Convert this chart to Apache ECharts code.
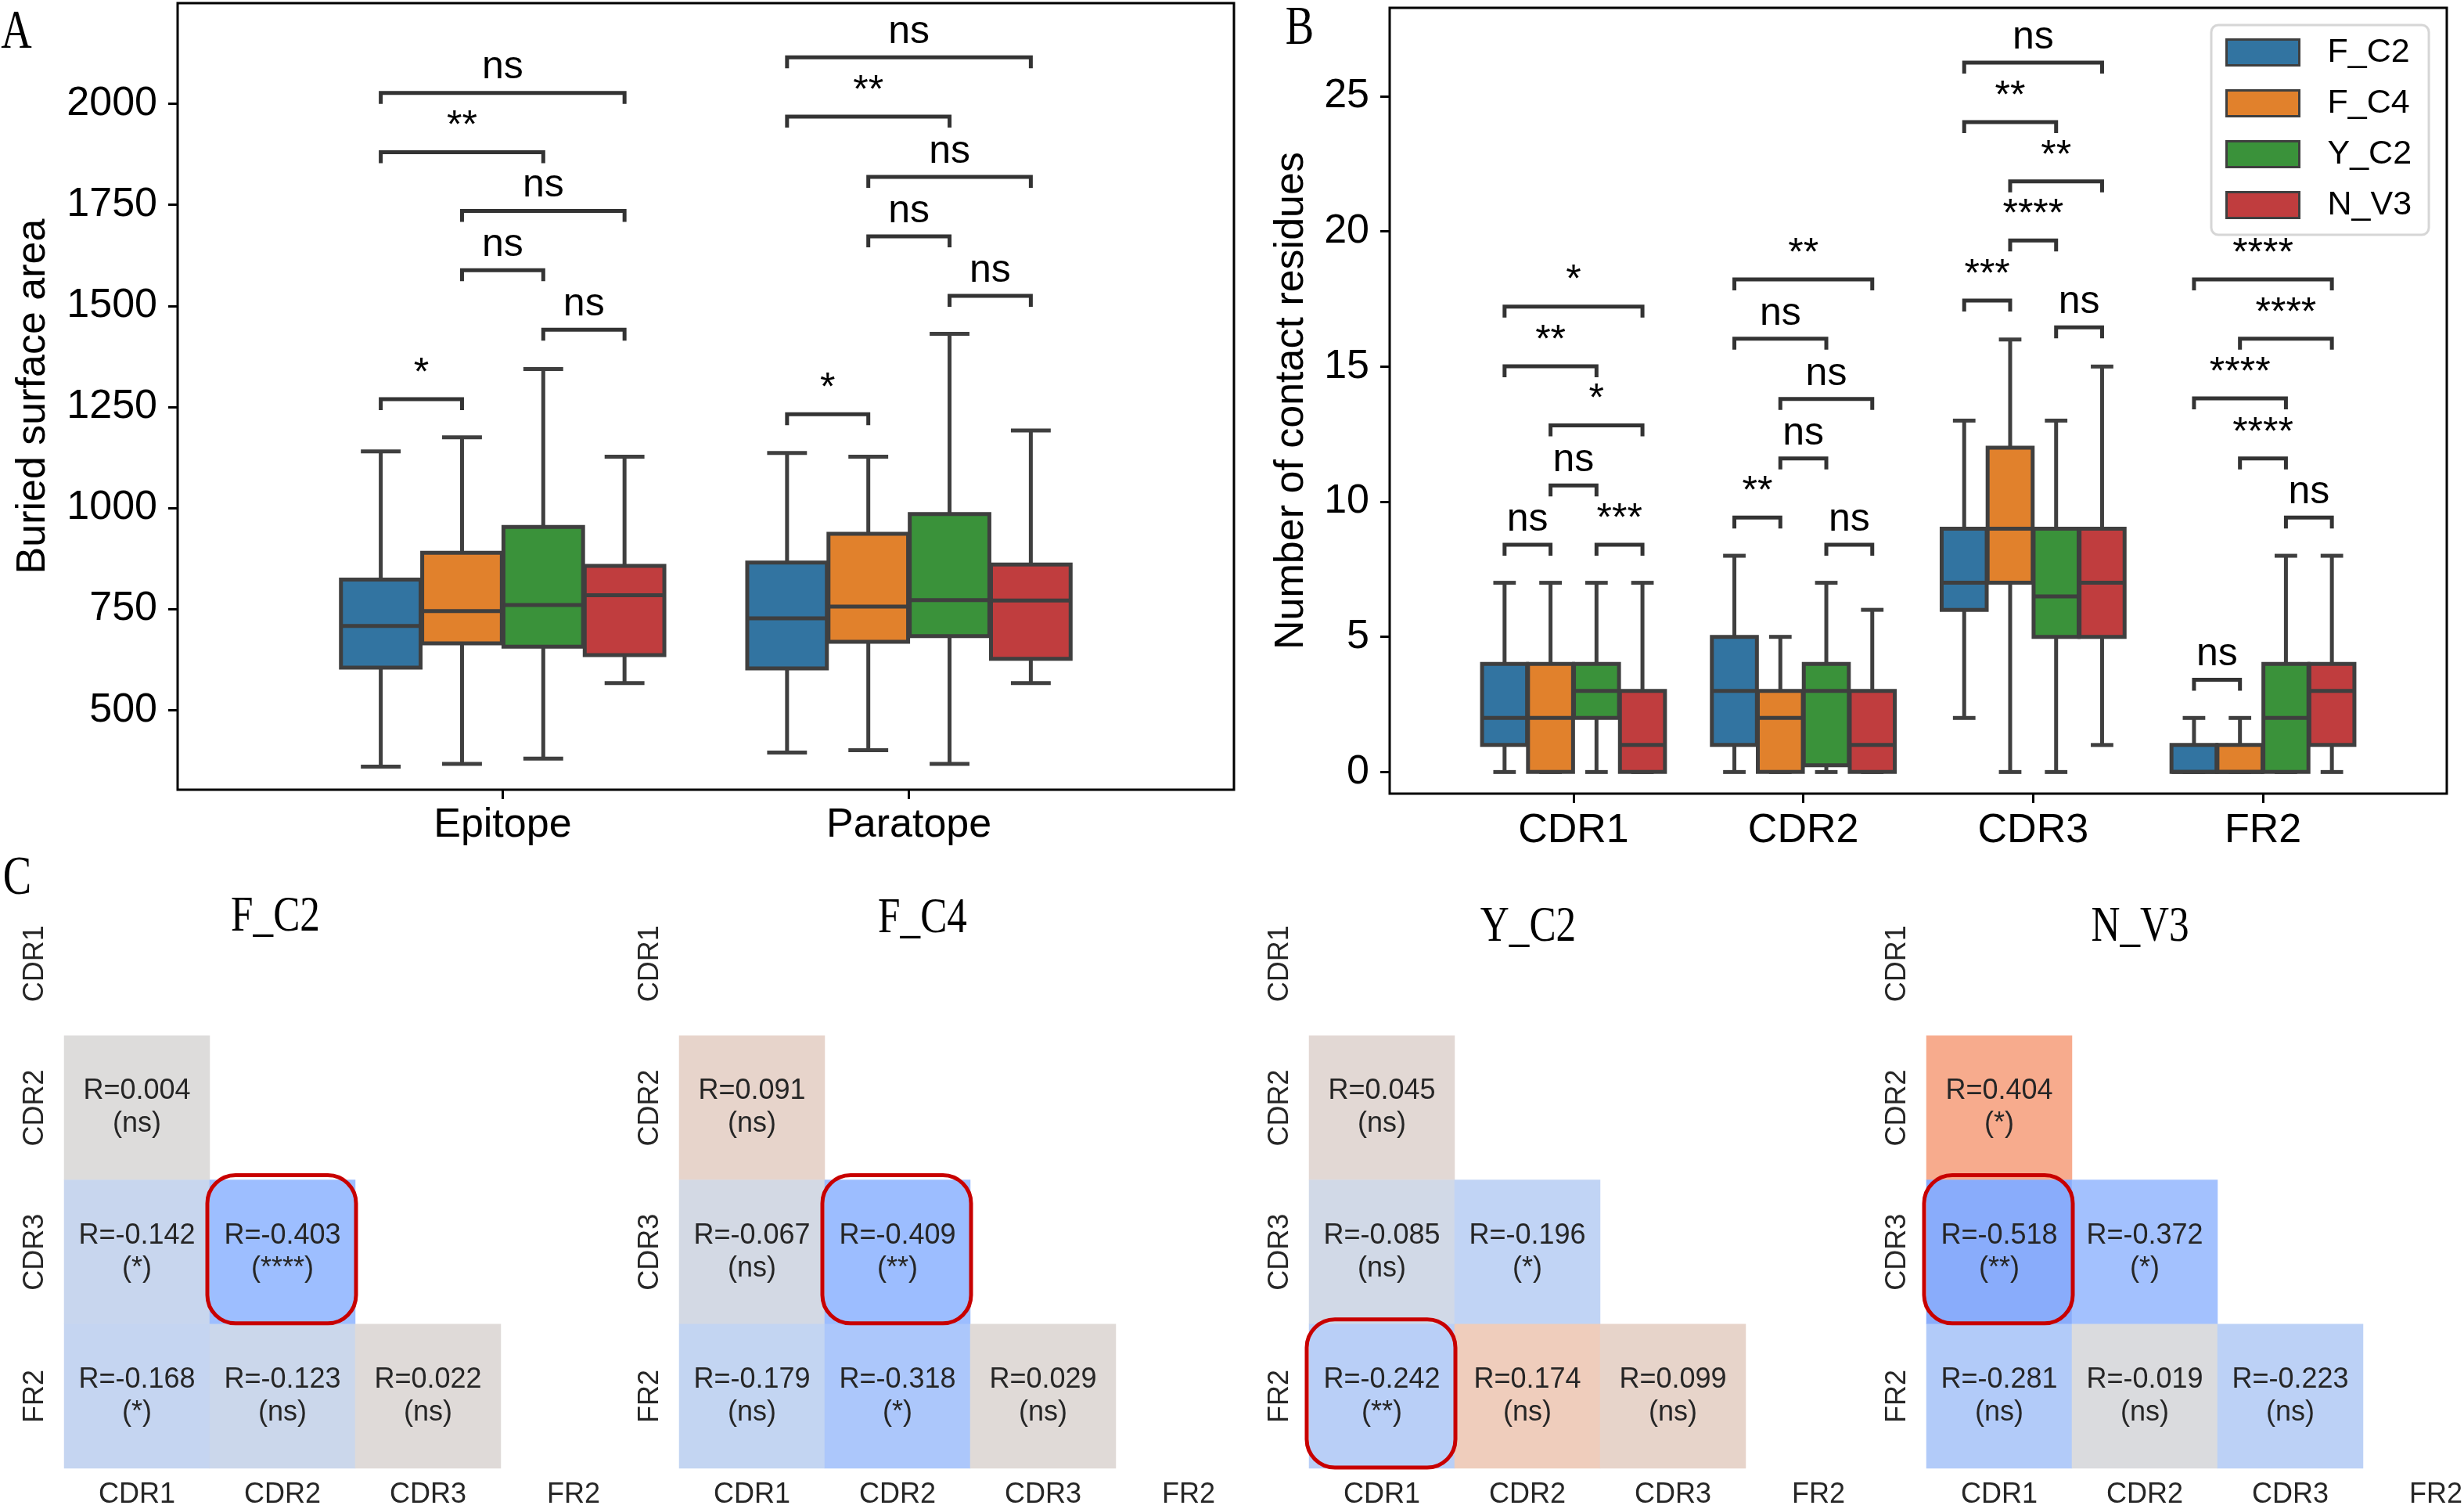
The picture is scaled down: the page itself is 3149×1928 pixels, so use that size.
<!DOCTYPE html>
<html><head><meta charset="utf-8">
<script src="https://cdn.jsdelivr.net/npm/echarts@6/dist/echarts.min.js"></script>
<style>html,body{margin:0;padding:0;background:#fff;overflow:hidden;width:3149px;height:1928px}#c{width:3220px;height:1928px}</style>
</head><body><div id="c"></div><script>
// ---------- data ----------
const hues = ['F_C2', 'F_C4', 'Y_C2', 'N_V3'];
const hueColors = ['#3274a1', '#e1812c', '#3a923a', '#c03d3e'];

// Panel A: buried surface area, [lowWhisker, Q1, median, Q3, highWhisker]
const catA = ['Epitope', 'Paratope'];
const yTicksA = [500, 750, 1000, 1250, 1500, 1750, 2000];
const boxA_F_C2 = [[360, 605, 708, 823, 1140], [395, 603, 727, 865, 1136]];
const boxA_F_C4 = [[367, 665, 745, 889, 1175], [401, 669, 756, 936, 1127]];
const boxA_Y_C2 = [[380, 657, 760, 953, 1344], [367, 683, 772, 985, 1431]];
const boxA_N_V3 = [[567, 636, 784, 857, 1127], [567, 627, 771, 860, 1192]];
// significance brackets: [category, hueFrom, hueTo, level, label]
const sigA = [
  [0, 0, 1, 1269, '*'], [0, 2, 3, 1441, 'ns'], [0, 1, 2, 1588, 'ns'], [0, 1, 3, 1735, 'ns'], [0, 0, 2, 1880, '**'], [0, 0, 3, 2027, 'ns'],
  [1, 0, 1, 1232, '*'], [1, 2, 3, 1525, 'ns'], [1, 1, 2, 1672, 'ns'], [1, 1, 3, 1819, 'ns'], [1, 0, 2, 1968, '**'], [1, 0, 3, 2115, 'ns']
];

// Panel B: number of contact residues
const catB = ['CDR1', 'CDR2', 'CDR3', 'FR2'];
const yTicksB = [0, 5, 10, 15, 20, 25];
const boxB_F_C2 = [[0, 1, 2, 4, 7], [0, 1, 3, 5, 8], [2, 6, 7, 9, 13], [0, 0, 0, 1, 2]];
const boxB_F_C4 = [[0, 0, 2, 4, 7], [0, 0, 2, 3, 5], [0, 7, 9, 12, 16], [0, 0, 0, 1, 2]];
const boxB_Y_C2 = [[0, 2, 3, 4, 7], [0, 0.25, 3, 4, 7], [0, 5, 6.5, 9, 13], [0, 0, 2, 4, 8]];
const boxB_N_V3 = [[0, 0, 1, 3, 7], [0, 0, 1, 3, 6], [1, 5, 7, 9, 15], [0, 1, 3, 4, 8]];
const sigB = [
  [0, 0, 1, 8.41, 'ns'], [0, 2, 3, 8.41, '***'], [0, 1, 2, 10.6, 'ns'], [0, 1, 3, 12.82, '*'], [0, 0, 2, 15.01, '**'], [0, 0, 3, 17.22, '*'],
  [1, 0, 1, 9.41, '**'], [1, 2, 3, 8.41, 'ns'], [1, 1, 2, 11.6, 'ns'], [1, 1, 3, 13.8, 'ns'], [1, 0, 2, 16.03, 'ns'], [1, 0, 3, 18.22, '**'],
  [2, 0, 1, 17.44, '***'], [2, 2, 3, 16.45, 'ns'], [2, 1, 2, 19.66, '****'], [2, 1, 3, 21.85, '**'], [2, 0, 2, 24.04, '**'], [2, 0, 3, 26.24, 'ns'],
  [3, 0, 1, 3.41, 'ns'], [3, 2, 3, 9.41, 'ns'], [3, 1, 2, 11.6, '****'], [3, 0, 2, 13.82, '****'], [3, 1, 3, 16.03, '****'], [3, 0, 3, 18.22, '****']
];

// Panel C: correlation heatmaps (lower triangle), pairs are [xIndex, yIndex]
const regions = ['CDR1', 'CDR2', 'CDR3', 'FR2'];
const pairs = [[0, 1], [0, 2], [1, 2], [0, 3], [1, 3], [2, 3]];
const R_F_C2 = [0.004, -0.142, -0.403, -0.168, -0.123, 0.022];
const S_F_C2 = ['ns', '*', '****', '*', 'ns', 'ns'];
const R_F_C4 = [0.091, -0.067, -0.409, -0.179, -0.318, 0.029];
const S_F_C4 = ['ns', 'ns', '**', 'ns', '*', 'ns'];
const R_Y_C2 = [0.045, -0.085, -0.196, -0.242, 0.174, 0.099];
const S_Y_C2 = ['ns', 'ns', '*', '**', 'ns', 'ns'];
const R_N_V3 = [0.404, -0.518, -0.372, -0.281, -0.019, -0.223];
const S_N_V3 = ['*', '**', '*', 'ns', 'ns', 'ns'];
const highlightCells = [[1, 2], [1, 2], [0, 3], [0, 2]];

// ---------- layout / style ----------
const SANS = '"Liberation Sans", Arial, sans-serif';
const SERIF = '"Liberation Serif", "Times New Roman", serif';
const HUE_OFFSETS = [-0.3, -0.1, 0.1, 0.3];
const BOX_W = 0.196, CAP_W = 0.098;
const EDGE = '#3f3f3f';
const coolwarm = ['#3b4cc0', '#5977e3', '#7b9ff9', '#9ebeff', '#c0d4f5', '#dddcdc', '#f2cbb7', '#f7ac8e', '#ee8468', '#d65244', '#b40426'];

function boxRender(params, api) {
  const x = api.value(0), lo = api.value(1), q1 = api.value(2), med = api.value(3), q3 = api.value(4), hi = api.value(5);
  const color = api.visual('color');
  const tl = api.coord([x - BOX_W / 2, q3]), br = api.coord([x + BOX_W / 2, q1]);
  const mL = api.coord([x - BOX_W / 2, med]), mR = api.coord([x + BOX_W / 2, med]);
  const pHi = api.coord([x, hi]), pLo = api.coord([x, lo]);
  const cL = api.coord([x - CAP_W / 2, hi]), cR = api.coord([x + CAP_W / 2, hi]);
  const dL = api.coord([x - CAP_W / 2, lo]), dR = api.coord([x + CAP_W / 2, lo]);
  const ls = { stroke: EDGE, lineWidth: 5 };
  return {
    type: 'group', children: [
      { type: 'line', shape: { x1: pHi[0], y1: tl[1], x2: pHi[0], y2: pHi[1] }, style: ls },
      { type: 'line', shape: { x1: pLo[0], y1: br[1], x2: pLo[0], y2: pLo[1] }, style: ls },
      { type: 'line', shape: { x1: cL[0], y1: cL[1], x2: cR[0], y2: cR[1] }, style: ls },
      { type: 'line', shape: { x1: dL[0], y1: dL[1], x2: dR[0], y2: dR[1] }, style: ls },
      { type: 'rect', shape: { x: tl[0], y: tl[1], width: br[0] - tl[0], height: br[1] - tl[1] }, style: { fill: color, stroke: EDGE, lineWidth: 5 } },
      { type: 'line', shape: { x1: mL[0], y1: mL[1], x2: mR[0], y2: mR[1] }, style: ls }
    ]
  };
}

function bracketRenderFor(sig) {
  return function (params, api) {
    const p1 = api.coord([api.value(0), api.value(2)]);
    const p2 = api.coord([api.value(1), api.value(2)]);
    const TIP = 14;
    return {
      type: 'group', children: [
        { type: 'polyline', shape: { points: [[p1[0], p1[1] + TIP], [p1[0], p1[1]], [p2[0], p2[1]], [p2[0], p2[1] + TIP]] }, style: { stroke: '#333333', lineWidth: 5, fill: null } },
        { type: 'text', x: (p1[0] + p2[0]) / 2, y: p1[1] - 7, style: { text: sig[params.dataIndex][4], font: '50px ' + SANS, fill: '#000', align: 'center', verticalAlign: 'bottom', textAlign: 'center', textVerticalAlign: 'bottom' } }
      ]
    };
  };
}

function highlightRender(params, api) {
  const c = api.coord([api.value(0), api.value(1)]);
  const s = api.size([1, 1]);
  return { type: 'rect', shape: { x: c[0] - s[0] / 2 - 3, y: c[1] - s[1] / 2 - 6, width: s[0] + 4, height: s[1] + 5, r: 36 }, style: { fill: null, stroke: '#c80000', lineWidth: 5 } };
}

const boxesA = [boxA_F_C2, boxA_F_C4, boxA_Y_C2, boxA_N_V3];
const boxesB = [boxB_F_C2, boxB_F_C4, boxB_Y_C2, boxB_N_V3];
const corr = [R_F_C2, R_F_C4, R_Y_C2, R_N_V3];
const sigC = [S_F_C2, S_F_C4, S_Y_C2, S_N_V3];

const series = [];
[boxesA, boxesB].forEach((boxes, gi) => {
  hues.forEach((h, hi) => {
    series.push({
      type: 'custom', name: h, xAxisIndex: gi, yAxisIndex: gi, silent: true, z: 3,
      itemStyle: { color: hueColors[hi] },
      encode: { x: 0, y: [1, 2, 3, 4, 5] },
      renderItem: boxRender,
      data: boxes[hi].map((b, c) => [c + HUE_OFFSETS[hi]].concat(b))
    });
  });
});
[sigA, sigB].forEach((sig, gi) => {
  series.push({
    type: 'custom', name: 'sig' + gi, xAxisIndex: gi, yAxisIndex: gi, silent: true, z: 3,
    encode: { x: [0, 1], y: 2 },
    renderItem: bracketRenderFor(sig),
    data: sig.map(s => [s[0] + HUE_OFFSETS[s[1]], s[0] + HUE_OFFSETS[s[2]], s[3]])
  });
});
const heatIdx = [];
hues.forEach((h, k) => {
  heatIdx.push(series.length);
  series.push({
    type: 'heatmap', name: 'hm_' + h, xAxisIndex: k + 2, yAxisIndex: k + 2, silent: true,
    data: pairs.map((p, i) => [p[0], p[1], corr[k][i]]),
    label: {
      show: true, fontSize: 36, lineHeight: 42, fontFamily: SANS, color: '#262626',
      formatter: p => 'R=' + corr[k][p.dataIndex].toFixed(3) + '\n(' + sigC[k][p.dataIndex] + ')'
    },
    itemStyle: { borderWidth: 0 },
    emphasis: { disabled: true }
  });
});
hues.forEach((h, k) => {
  series.push({
    type: 'custom', name: 'hl_' + h, xAxisIndex: k + 2, yAxisIndex: k + 2, silent: true, z: 5,
    encode: { x: 0, y: 1 }, renderItem: highlightRender, data: [highlightCells[k]]
  });
});

const heatLefts = [82, 868, 1673, 2462];
const grids = [
  { left: 227, top: 4, width: 1350, height: 1005, show: true, borderColor: '#000', borderWidth: 3, backgroundColor: 'transparent' },
  { left: 1776, top: 10, width: 1351, height: 1004, show: true, borderColor: '#000', borderWidth: 3, backgroundColor: 'transparent' }
].concat(heatLefts.map(l => ({ left: l, top: 1139, width: 744, height: 740 })));

const tickStyle = { lineStyle: { color: '#000', width: 3 }, length: 12 };
const noLine = { show: false, onZero: false };
const xAxes = [
  {
    type: 'value', gridIndex: 0, min: -0.8, max: 1.8, splitLine: { show: false }, axisLine: noLine,
    axisTick: Object.assign({ customValues: [0, 1] }, tickStyle),
    axisLabel: { customValues: [0, 1], formatter: v => catA[Math.round(v)], fontSize: 52, fontFamily: SANS, color: '#000', margin: 20 }
  },
  {
    type: 'value', gridIndex: 1, min: -0.8, max: 3.8, splitLine: { show: false }, axisLine: noLine,
    axisTick: Object.assign({ customValues: [0, 1, 2, 3] }, tickStyle),
    axisLabel: { customValues: [0, 1, 2, 3], formatter: v => catB[Math.round(v)], fontSize: 52, fontFamily: SANS, color: '#000', margin: 22 }
  }
];
const yAxes = [
  {
    type: 'value', gridIndex: 0, min: 303, max: 2249, splitLine: { show: false }, axisLine: noLine,
    axisTick: Object.assign({ customValues: yTicksA }, tickStyle),
    axisLabel: { customValues: yTicksA, formatter: v => String(v), fontSize: 52, fontFamily: SANS, color: '#000', margin: 26 },
    name: 'Buried surface area', nameLocation: 'middle', nameGap: 158,
    nameTextStyle: { fontSize: 52, fontFamily: SANS, color: '#000' }
  },
  {
    type: 'value', gridIndex: 1, min: -0.8, max: 28.27, splitLine: { show: false }, axisLine: noLine,
    axisTick: Object.assign({ customValues: yTicksB }, tickStyle),
    axisLabel: { customValues: yTicksB, formatter: v => String(v), fontSize: 52, fontFamily: SANS, color: '#000', margin: 26 },
    name: 'Number of contact residues', nameLocation: 'middle', nameGap: 99,
    nameTextStyle: { fontSize: 52, fontFamily: SANS, color: '#000' }
  }
];
hues.forEach((h, k) => {
  xAxes.push({
    type: 'category', gridIndex: k + 2, data: regions, axisLine: { show: false },
    axisTick: { alignWithLabel: true, length: 9, lineStyle: { color: '#262626', width: 2.5 } },
    axisLabel: { fontSize: 36, fontFamily: SANS, color: '#262626', margin: 16 }, splitLine: { show: false }
  });
  yAxes.push({
    type: 'category', gridIndex: k + 2, data: regions, inverse: true, axisLine: { show: false },
    axisTick: { alignWithLabel: true, length: 8, lineStyle: { color: '#262626', width: 2.5 } },
    axisLabel: { fontSize: 36, fontFamily: SANS, color: '#262626', margin: 19, rotate: 90 }, splitLine: { show: false }
  });
});

function txt(text, x, y, size, sx) {
  return {
    type: 'text', x: x, y: y, scaleX: sx, silent: true,
    style: { text: text, font: size + 'px ' + SERIF, fill: '#000', align: 'center', verticalAlign: 'middle', textAlign: 'center', textVerticalAlign: 'middle' }
  };
}
const titlePos = [[352, 1172], [1179, 1174], [1953, 1185], [2735, 1185]];

const option = {
  animation: false,
  backgroundColor: '#fff',
  grid: grids,
  xAxis: xAxes,
  yAxis: yAxes,
  visualMap: {
    type: 'continuous', show: false, min: -1, max: 1, dimension: 2, seriesIndex: heatIdx,
    inRange: { color: coolwarm }
  },
  legend: {
    left: 2826, top: 32, orient: 'vertical', selectedMode: false,
    itemWidth: 93, itemHeight: 33, itemGap: 21, padding: [13, 22, 16, 18],
    backgroundColor: 'rgba(255,255,255,0.8)', borderColor: '#d6d6d6', borderWidth: 3, borderRadius: 9,
    textStyle: { fontSize: 43, fontFamily: SANS, color: '#000', lineHeight: 44, padding: [0, 0, 0, 31] },
    data: hues.map((h, i) => ({ name: h, icon: 'rect', itemStyle: { color: hueColors[i], borderColor: EDGE, borderWidth: 3 } }))
  },
  graphic: [
    txt('A', 21, 43, 70, 0.78),
    txt('B', 1661, 38, 70, 0.78),
    txt('C', 22, 1124, 70, 0.78)
  ].concat(hues.map((h, k) => txt(h, titlePos[k][0], titlePos[k][1], 64, 0.8))),
  series: series
};
echarts.init(document.getElementById('c')).setOption(option);
</script></body></html>
